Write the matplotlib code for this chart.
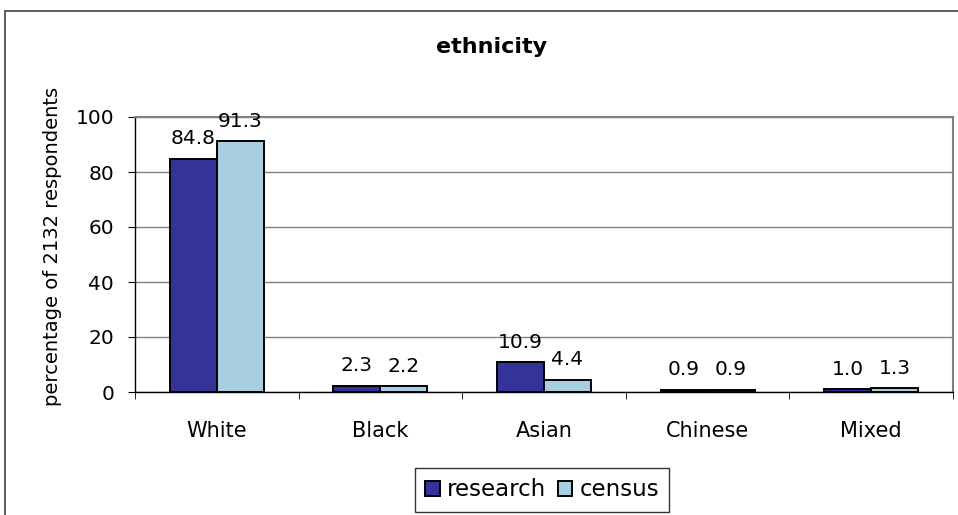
import matplotlib
matplotlib.use("Agg")
import matplotlib.pyplot as plt
from matplotlib.patches import Rectangle
import numpy as np

categories = ["White", "Black", "Asian", "Chinese", "Mixed"]
research = [84.8, 2.3, 10.9, 0.9, 1.0]
census = [91.3, 2.2, 4.4, 0.9, 1.3]
yticks = [0, 20, 40, 60, 80, 100]

plt.rcParams['font.family'] = ['DejaVu Sans']

W, H = 958, 515
fig = plt.figure(figsize=(W/100, H/100), dpi=100)

# outer chart frame
fig.patches.append(Rectangle((5/W, -0.05), 1.0, 1 - 11/H + 0.05, transform=fig.transFigure,
                             fill=False, edgecolor='#404040', linewidth=1.2))

ax = fig.add_axes([135/W, 1 - 392/H, 818/W, 275/H])
x = np.arange(len(categories))
bw = 0.287
c_res = '#333399'
c_cen = '#A8CFE1'
b1 = ax.bar(x - bw/2, research, bw, color=c_res, edgecolor='black', linewidth=1.4, label='research', zorder=3)
b2 = ax.bar(x + bw/2, census, bw, color=c_cen, edgecolor='black', linewidth=1.4, label='census', zorder=3)

for bars, vals in ((b1, research), (b2, census)):
    for r, v in zip(bars, vals):
        ax.annotate(f"{v:.1f}", (r.get_x() + r.get_width()/2, v), xytext=(0, 7.5),
                    textcoords='offset points', ha='center', va='bottom', fontsize=14.5)

ax.set_xlim(-0.5, len(categories) - 0.5)
ax.set_ylim(0, 100)
ax.set_yticks(yticks)
ax.set_yticklabels([str(t) for t in yticks], fontsize=14.5)
ax.yaxis.grid(True, color='#808080', linewidth=1.0, zorder=0)
ax.set_axisbelow(True)

ax.set_xticks(x)
ax.set_xticklabels(categories, fontsize=15)
ax.tick_params(axis='x', length=0, pad=21)
ax.set_xticks(np.arange(-0.5, len(categories)), minor=True)
ax.tick_params(axis='x', which='minor', length=5, direction='out', color='black')
ax.tick_params(axis='y', length=5, direction='out', pad=10)

for s in ('left', 'bottom'):
    ax.spines[s].set_color('black')
    ax.spines[s].set_linewidth(1.0)
for s in ('top', 'right'):
    ax.spines[s].set_color('#808080')
    ax.spines[s].set_linewidth(1.5)

fig.text(53/W, 1 - 246/H, "percentage of 2132 respondents", rotation=90,
         ha='center', va='center', fontsize=14)
fig.text(492/W, 1 - 47/H, "ethnicity", ha='center', va='center', fontsize=16,
         fontweight='bold')

leg = fig.legend(handles=[b1, b2], labels=['research', 'census'], loc='center',
                 bbox_to_anchor=(542/W, 1 - 490/H), ncol=2, fontsize=16.5, frameon=True,
                 fancybox=False, edgecolor='black', handlelength=0.65, handleheight=0.65,
                 handletextpad=0.3, columnspacing=0.5, borderpad=0.45)
leg.get_frame().set_linewidth(1.0)

fig.savefig("out.png", dpi=100)
